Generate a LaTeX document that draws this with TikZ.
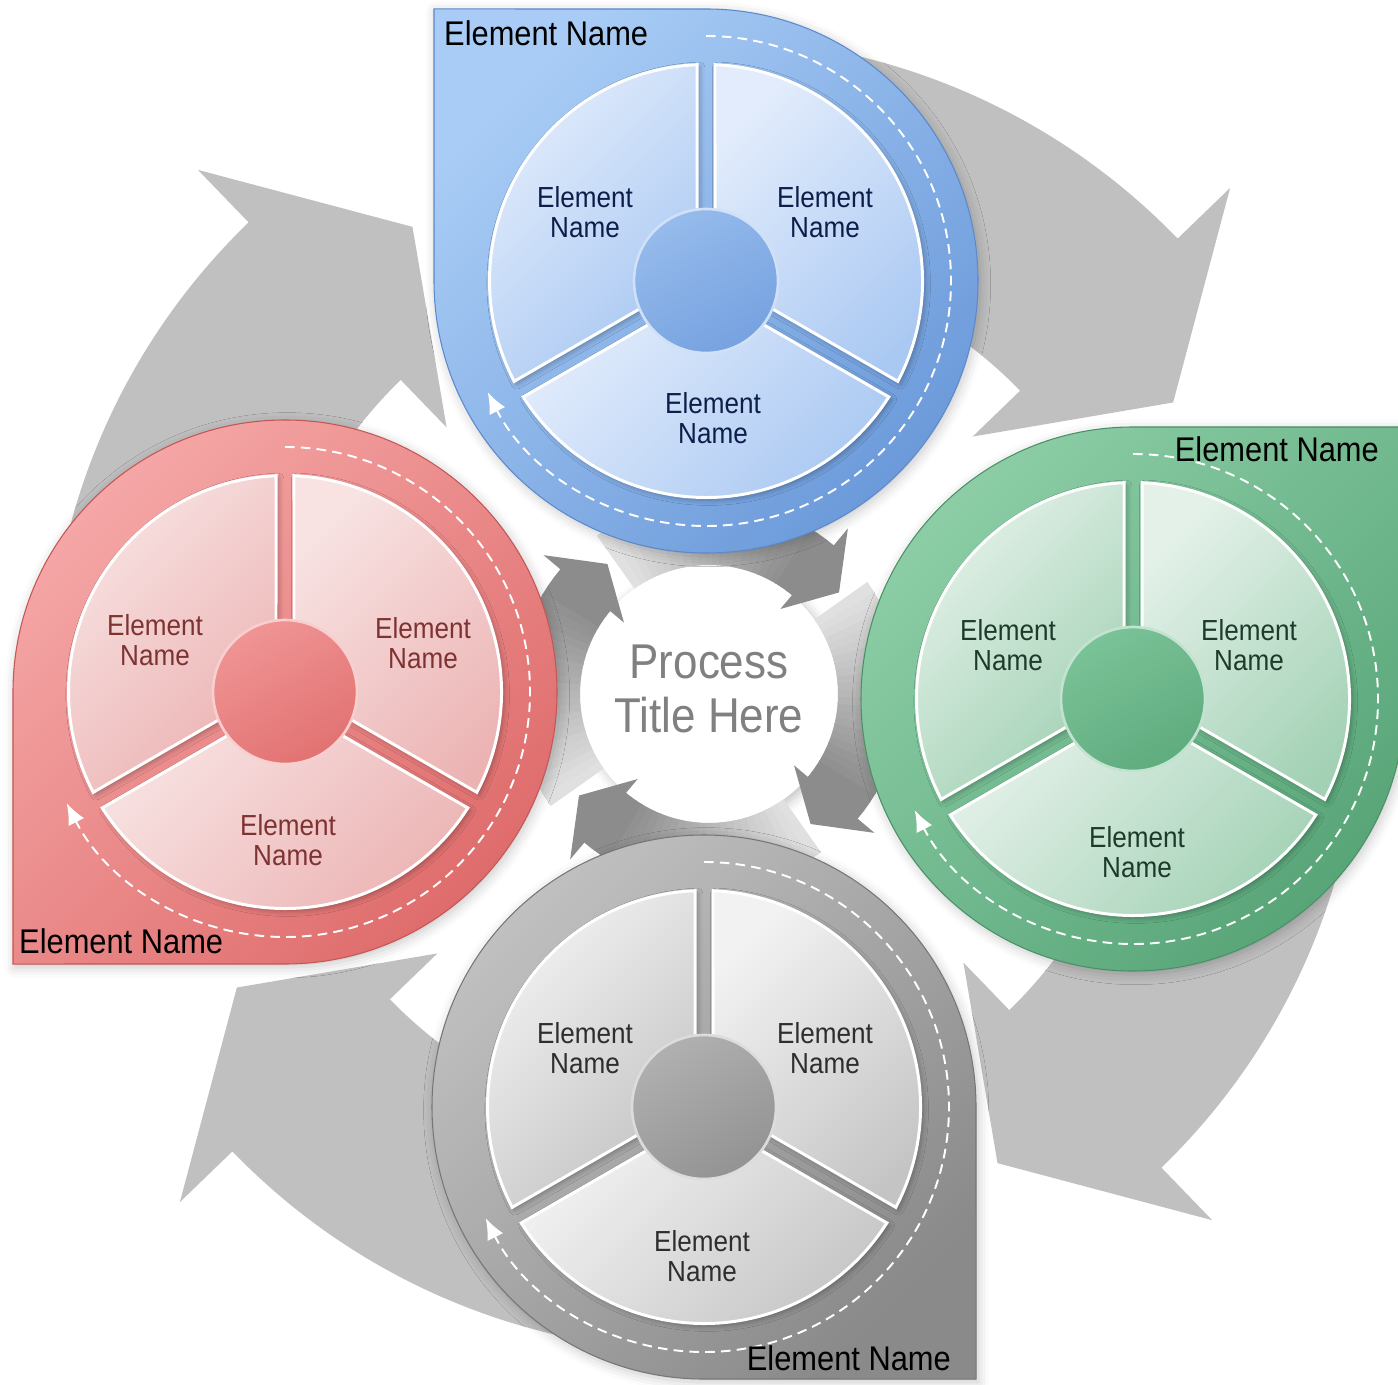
\documentclass[tikz,border=0pt]{standalone}
\usepackage{fontspec}
\setmainfont{Liberation Sans}[FakeStretch=0.9]
\usetikzlibrary{arrows.meta, shadows.blur}

\definecolor{arrowLight}{HTML}{C0C0C0}
\definecolor{arrowDark}{HTML}{8C8C8C}
\definecolor{titleGray}{HTML}{808080}

\definecolor{blueDrop1}{HTML}{A8CCF5}
\definecolor{blueDrop2}{HTML}{6C9ADA}
\definecolor{blueEdge}{HTML}{5B89CC}
\definecolor{blueSec1}{HTML}{E2ECFC}
\definecolor{blueSec2}{HTML}{A9C8F2}
\definecolor{blueMid1}{HTML}{96BBEC}
\definecolor{blueMid2}{HTML}{76A2E0}
\definecolor{blueText}{HTML}{0E1E4A}

\definecolor{greenDrop1}{HTML}{8CCDA6}
\definecolor{greenDrop2}{HTML}{58A578}
\definecolor{greenEdge}{HTML}{4A9065}
\definecolor{greenSec1}{HTML}{E4F1E9}
\definecolor{greenSec2}{HTML}{A2D1B4}
\definecolor{greenMid1}{HTML}{7AC297}
\definecolor{greenMid2}{HTML}{5FAC7F}
\definecolor{greenText}{HTML}{1E3A2B}

\definecolor{redDrop1}{HTML}{F5A6A6}
\definecolor{redDrop2}{HTML}{DF6C6C}
\definecolor{redEdge}{HTML}{C45656}
\definecolor{redSec1}{HTML}{F8E2E2}
\definecolor{redSec2}{HTML}{ECB3B3}
\definecolor{redMid1}{HTML}{F09494}
\definecolor{redMid2}{HTML}{E27272}
\definecolor{redText}{HTML}{7E3333}

\definecolor{grayDrop1}{HTML}{C0C0C0}
\definecolor{grayDrop2}{HTML}{8A8A8A}
\definecolor{grayEdge}{HTML}{767676}
\definecolor{graySec1}{HTML}{F2F2F2}
\definecolor{graySec2}{HTML}{C4C4C4}
\definecolor{grayMid1}{HTML}{B0B0B0}
\definecolor{grayMid2}{HTML}{939393}
\definecolor{grayText}{HTML}{2E2E2E}

\tikzset{
  inlabel/.style={align=center, font=\fontsize{16.5}{17}\selectfont},
  outlabel/.style={font=\fontsize{19.5}{20}\selectfont, text=black},
  dashring/.style={white, line width=1.1pt, dash pattern=on 5.5pt off 3.5pt, -{Latex[length=12pt,width=10pt]}},
  dropshade/.style={blur shadow={shadow xshift=1.2pt, shadow yshift=-1.8pt, shadow blur radius=6pt, shadow opacity=22}},
  secshade/.style={blur shadow={shadow xshift=1.5pt, shadow yshift=-1.5pt, shadow blur radius=3pt, shadow opacity=30}},
  bigarrow/.style={fill=arrowLight},
}

% one element: #1 centre, #2 angle of the square corner, #3 colour prefix
\newcommand{\wheel}[3]{%
\begin{scope}[shift={#1}]
  \draw[draw=#3Edge, line width=0.6pt, dropshade, top color=#3Drop1, bottom color=#3Drop2, shading angle=45]
    ({#2}:384.7) -- ({#2-45}:272) arc[start angle=#2-45, end angle=#2-315, radius=272] -- cycle;
  \draw[dashring] (90:245) arc[start angle=90, end angle=-153, radius=245];
  \foreach \a in {90,210,330}{
    \draw[white, line width=1.7pt, secshade, top color=#3Sec1, bottom color=#3Sec2, shading angle=45]
      ({\a+60}:10.4) -- ({\a+2.38}:216.5) arc[start angle=\a+2.38, end angle=\a+117.62, radius=216.5] -- cycle;
  }
  \draw[white!55!#3Mid1, line width=1.5pt, top color=#3Mid1, bottom color=#3Mid2, shading angle=30] (0,0) circle (72);
\end{scope}}

\begin{document}
\begin{tikzpicture}[x=0.02cm, y=0.02cm]
\useasboundingbox (0,0) rectangle (1398,1384);
\clip (0,0) rectangle (1398,1384);

%big arrows
\begin{scope}[shift={(705,689)}]
\foreach \b in {134,44,-46,-136}{
  \fill[bigarrow] ({\b+70}:657) arc[start angle=\b+70, end angle=\b, radius=657]
    -- ({\b}:730) -- ({\b-12}:552) -- ({\b}:372) -- ({\b}:438)
    arc[start angle=\b, end angle=\b+70, radius=438] -- cycle;
}
\end{scope}

%centre
\fill[white, blur shadow={shadow xshift=2pt, shadow yshift=-2pt, shadow blur radius=6pt, shadow opacity=25}] (709,690) circle (129);

%small arrows
\begin{scope}[shift={(709,690)}]
\foreach \b in {140,50,-40,-130}{
  \foreach \i in {0,...,24}{
    \pgfmathtruncatemacro\p{\i<3 ? 100 : 100-3.3*(\i-2)}
    \pgfmathsetmacro\s{\b+3*\i-0.3}
    \pgfmathsetmacro\e{\b+3*\i+3.3}
    \fill[arrowDark!\p!white] ({\s}:129) arc[start angle=\s, end angle=\e, radius=129]
      -- ({\e}:194) arc[start angle=\e, end angle=\s, radius=194] -- cycle;
  }
  \fill[arrowDark] ({\b}:194) -- ({\b}:216) -- ({\b-12}:165) -- ({\b}:111) -- ({\b}:129) -- cycle;
}
\end{scope}

%elements
\wheel{(706,1103)}{135}{blue}
\wheel{(1133,685)}{45}{green}
\wheel{(285,692)}{-135}{red}
\wheel{(704,277)}{-45}{gray}

%labels
\node[inlabel, text=blueText] (blueTL) at (585,1172) {Element\\Name};
\node[inlabel, text=blueText] (blueTR) at (825,1172) {Element\\Name};
\node[inlabel, text=blueText] (blueB) at (713,966) {Element\\Name};

\node[inlabel, text=greenText] (greenTL) at (1008,739) {Element\\Name};
\node[inlabel, text=greenText] (greenTR) at (1249,739) {Element\\Name};
\node[inlabel, text=greenText] (greenB) at (1137,532) {Element\\Name};

\node[inlabel, text=redText] (redTL) at (155,744) {Element\\Name};
\node[inlabel, text=redText] (redTR) at (423,741) {Element\\Name};
\node[inlabel, text=redText] (redB) at (288,544) {Element\\Name};

\node[inlabel, text=grayText] (grayTL) at (585,336) {Element\\Name};
\node[inlabel, text=grayText] (grayTR) at (825,336) {Element\\Name};
\node[inlabel, text=grayText] (grayB) at (702,128) {Element\\Name};

\node[outlabel, anchor=base west] (blueName) at (438,1338) {Element Name};
\node[outlabel, anchor=base east] (greenName) at (1385,922) {Element Name};
\node[outlabel, anchor=base west] (redName) at (13,431) {Element Name};
\node[outlabel, anchor=base east] (grayName) at (957,14) {Element Name};

\node[align=center, text=titleGray, font=\fontsize{27.8}{31}\selectfont] (title) at (709,695) {Process\\Title Here};

\end{tikzpicture}
\end{document}
